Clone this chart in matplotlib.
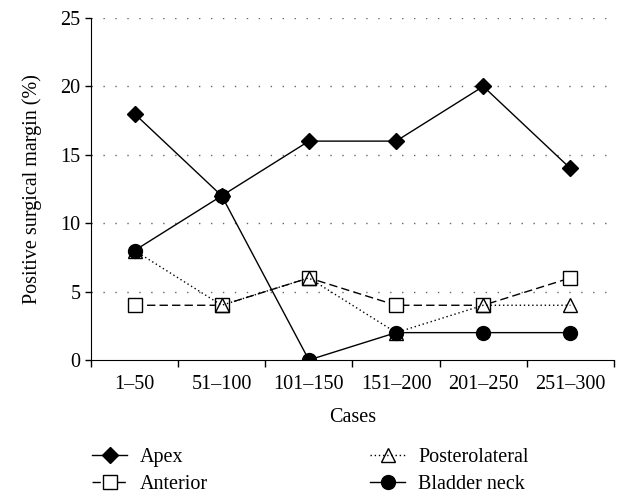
import numpy as np
import matplotlib.pyplot as plt

plt.rcParams['font.family'] = ['Liberation Serif', 'DejaVu Serif']

cases = ['1–50', '51–100', '101–150', '151–200', '201–250', '251–300']
apex = [18, 12, 16, 16, 20, 14]
anterior = [4, 4, 6, 4, 4, 6]
posterolateral = [8, 4, 6, 2, 4, 4]
bladder_neck = [8, 12, 0, 2, 2, 2]

x = np.arange(len(cases)) + 0.5
fs = 14.5

fig = plt.figure(figsize=(6.23, 4.93), dpi=100)
ax = fig.add_axes([0.146, 0.2698, 0.8396, 0.6937])

ax.plot(x, apex, color='black', lw=1, marker='D', ms=8, mfc='black', label='Apex')
ax.plot(x, anterior, color='black', lw=1, ls=(0, (6, 3)), marker='s', ms=10,
        mfc='white', mew=1, label='Anterior')
ax.plot(x, posterolateral, color='black', lw=1, ls=(0, (1, 2)), marker='^', ms=10,
        mfc='none', mew=1, label='Posterolateral')
ax.plot(x, bladder_neck, color='black', lw=1, marker='o', ms=10, mfc='black',
        label='Bladder neck')

ax.set_xlim(0, 6)
ax.set_ylim(0, 25)
ax.set_yticks([0, 5, 10, 15, 20, 25])
ax.set_xticks(np.arange(7))
ax.set_xticklabels([])
ax.set_xticks(x, minor=True)
ax.set_xticklabels(cases, minor=True)
ax.tick_params(axis='x', which='minor', length=0, pad=11, labelsize=fs)
ax.tick_params(axis='x', which='major', length=5, width=1, direction='out')
ax.tick_params(axis='y', length=4.5, width=1, direction='out', pad=3, labelsize=fs)

for v in [5, 10, 15, 20, 25]:
    ax.axhline(v, color='#666666', lw=1, ls=(0, (1, 7.6)), zorder=0)

for side in ['top', 'right']:
    ax.spines[side].set_visible(False)

ax.set_xlabel('Cases', fontsize=fs, labelpad=10)
ax.set_ylabel('Positive surgical margin (%)', fontsize=fs, labelpad=13)

handles, labels = ax.get_legend_handles_labels()
kw = dict(loc='upper left', frameon=False, fontsize=fs, handlelength=1.74,
          handletextpad=0.65, labelspacing=0.38, borderpad=0, borderaxespad=0)
fig.legend(handles[:2], labels[:2], bbox_to_anchor=(92 / 623, 0.091), **kw)
fig.legend(handles[2:], labels[2:], bbox_to_anchor=(370 / 623, 0.091), **kw)

fig.savefig('out.png', dpi=100)
